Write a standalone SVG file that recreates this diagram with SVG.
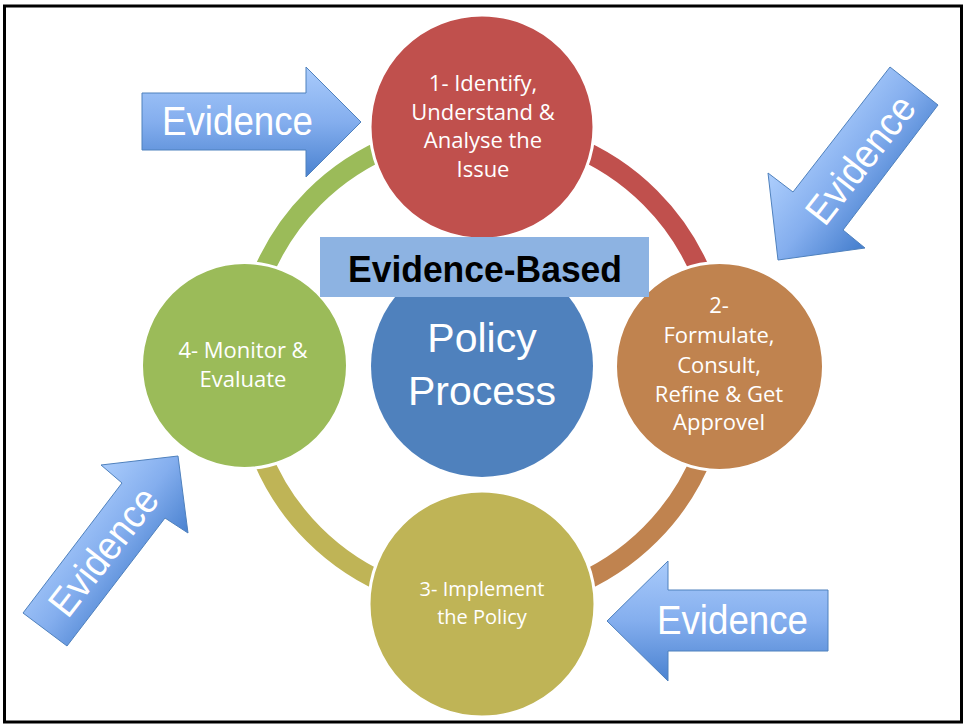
<svg xmlns="http://www.w3.org/2000/svg" width="965" height="725" viewBox="0 0 965 725">
<style>
.ring{fill:none;stroke-width:20}
.node{stroke:#fff;stroke-width:3}
.lbl{font-family:"Open Sans","Liberation Sans",sans-serif;font-size:22px;fill:#fff;text-anchor:middle}
.sm{font-size:20px}
.big{font-family:"Liberation Sans",Arial,sans-serif;font-size:41px;fill:#fff;text-anchor:middle}
.ev{font-family:"Liberation Sans",Arial,sans-serif;font-size:40px;fill:#fff;text-anchor:middle}
.arrow{stroke:#4F81BD;stroke-width:1}
</style>
<defs>
<linearGradient id="g1" gradientUnits="userSpaceOnUse" x1="0" y1="67" x2="0" y2="177">
<stop offset="0" stop-color="#A9CBFB"/><stop offset="0.5" stop-color="#84AEEE"/><stop offset="1" stop-color="#4A82D0"/>
</linearGradient>
<linearGradient id="g4" gradientUnits="userSpaceOnUse" x1="0" y1="561" x2="0" y2="681">
<stop offset="0" stop-color="#A9CBFB"/><stop offset="0.5" stop-color="#84AEEE"/><stop offset="1" stop-color="#4A82D0"/>
</linearGradient>
<linearGradient id="g2" gradientUnits="userSpaceOnUse" x1="823" y1="114" x2="909" y2="182">
<stop offset="0" stop-color="#A9CBFB"/><stop offset="0.5" stop-color="#84AEEE"/><stop offset="1" stop-color="#4A82D0"/>
</linearGradient>
<linearGradient id="g3" gradientUnits="userSpaceOnUse" x1="52" y1="531" x2="138" y2="597">
<stop offset="0" stop-color="#A9CBFB"/><stop offset="0.5" stop-color="#84AEEE"/><stop offset="1" stop-color="#4A82D0"/>
</linearGradient>
</defs>
<rect x="4.5" y="6" width="957" height="716" fill="#fff" stroke="#000" stroke-width="3"/>
<g id="connectors">
<path class="ring" stroke="#C0504D" d="M482 128 A238 238 0 0 1 720 366"/>
<path class="ring" stroke="#C0834F" d="M720 366 A238 238 0 0 1 482 604"/>
<path class="ring" stroke="#BFB456" d="M482 604 A238 238 0 0 1 244 366"/>
<path class="ring" stroke="#9BBB59" d="M244 366 A238 238 0 0 1 482 128"/>
</g>
<g id="node-identify">
<circle class="node" cx="482" cy="127" r="112" fill="#C0504D"/>
<text class="lbl" x="483" y="91">1- Identify,</text>
<text class="lbl" x="483" y="120">Understand &amp;</text>
<text class="lbl" x="483" y="148">Analyse the</text>
<text class="lbl" x="483" y="177">Issue</text>
</g>
<g id="node-formulate">
<circle class="node" cx="719.5" cy="366.5" r="104" fill="#C0834F"/>
<text class="lbl" x="719" y="313">2-</text>
<text class="lbl" x="719" y="343">Formulate,</text>
<text class="lbl" x="719" y="373">Consult,</text>
<text class="lbl" x="719" y="402">Refine &amp; Get</text>
<text class="lbl" x="719" y="430">Approvel</text>
</g>
<g id="node-implement">
<circle class="node" cx="482" cy="604" r="113" fill="#BFB456"/>
<text class="lbl sm" x="482" y="596">3- Implement</text>
<text class="lbl sm" x="482" y="624">the Policy</text>
</g>
<g id="node-monitor">
<circle class="node" cx="244.5" cy="365.5" r="103" fill="#9BBB59"/>
<text class="lbl" x="243" y="358">4- Monitor &amp;</text>
<text class="lbl" x="243" y="387">Evaluate</text>
</g>
<g id="node-center">
<circle cx="482" cy="366" r="111" fill="#4F81BD"/>
<text class="big" x="482" y="352">Policy</text>
<text class="big" x="482" y="405">Process</text>
</g>
<g id="title">
<rect x="320" y="237" width="329" height="60" fill="#8DB3E2"/>
<text x="485" y="282" font-family="Liberation Sans, Arial, sans-serif" font-size="37" font-weight="bold" fill="#000" text-anchor="middle" textLength="274" lengthAdjust="spacingAndGlyphs">Evidence-Based</text>
</g>
<g id="arrow-top-left">
<polygon class="arrow" fill="url(#g1)" points="142,93 306,93 306,67 361,122 306,177 306,150 142,150"/>
<text class="ev" x="237.5" y="135" textLength="151" lengthAdjust="spacingAndGlyphs">Evidence</text>
</g>
<g id="arrow-top-right">
<polygon class="arrow" fill="url(#g2)" points="890,67 938,105 843,230 865,248 778,260 768,173 793,192"/>
<text class="ev" transform="translate(861,160) rotate(-52)" x="0" y="13" textLength="151" lengthAdjust="spacingAndGlyphs">Evidence</text>
</g>
<g id="arrow-bottom-left">
<polygon class="arrow" fill="url(#g3)" points="23,613 122,483 101,465 178,456 188,533 165,518 67,646"/>
<text class="ev" transform="translate(104,552) rotate(-52)" x="0" y="13" textLength="151" lengthAdjust="spacingAndGlyphs">Evidence</text>
</g>
<g id="arrow-bottom-right">
<polygon class="arrow" fill="url(#g4)" points="828,590 668,590 668,561 607,621 668,681 668,651 828,651"/>
<text class="ev" x="732.5" y="634" textLength="151" lengthAdjust="spacingAndGlyphs">Evidence</text>
</g>
</svg>
